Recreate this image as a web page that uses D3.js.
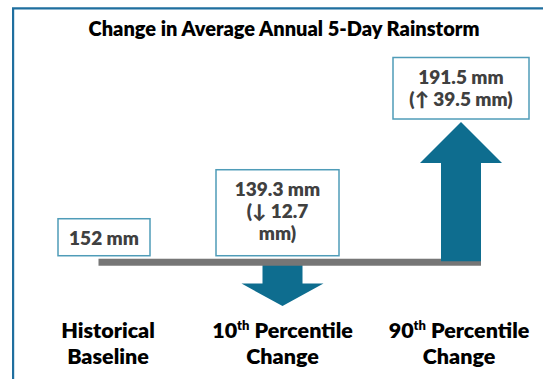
<!DOCTYPE html>
<html>
<head>
<meta charset="utf-8">
<script src="https://cdn.jsdelivr.net/npm/d3@7"></script>
<style>
  html, body { margin: 0; padding: 0; background: #fff; }
  svg { display: block; }
  text { font-family: Lato, "Open Sans", sans-serif; font-weight: 800; }
</style>
</head>
<body>
<svg id="chart" width="543" height="379"></svg>
<script>
// Average annual 5-day rainstorm depth (mm): baseline and projected percentiles
const title = "Change in Average Annual 5-Day Rainstorm";
const categories = ["Historical Baseline", "10th Percentile Change", "90th Percentile Change"];
const values = [152, 139.3, 191.5];
const unit = "mm";

// Layout and style
const W = 543, H = 379;
const arrowColor = "#0e6d8f";
const barColor = "#767676";
const boxStroke = "#4f9cb8";
const boxWidths = [92, 123, 136];
const boxWrap = [120, 90, 120];
const boxDx = [0, -5, 0];
const labelDx = [4, 0, -2];
const shaftW = 40, headW = 82, maxHead = 41;
const boxFont = 19, labelFont = 21.5, titleFont = 20;

const svg = d3.select("#chart");

// Frame lines along top and left
svg.append("path")
  .attr("d", `M13.1,${H} V8.4 H${W}`)
  .attr("fill", "none")
  .attr("stroke", "#1f6f9f")
  .attr("stroke-width", 2.2);

svg.append("text")
  .attr("x", 284).attr("y", 36)
  .attr("text-anchor", "middle")
  .attr("font-size", titleFont)
  .attr("fill", "#000")
  .text(title);

const x = d3.scalePoint().domain(categories).range([104, 461]);
const y = d3.scaleLinear().domain([d3.min(values), d3.max(values)]).range([306, 122]);
const base = values[0];
const y0 = y(base);

const rows = categories.map((c, i) => ({ cat: c, value: values[i], change: values[i] - base, i }));

function arrowPath(d) {
  const cx = x(d.cat), tip = y(d.value);
  const s = d.change > 0 ? 1 : -1;
  const len = Math.abs(tip - y0);
  const head = Math.min(maxHead, len / 2);
  const hb = tip + s * head;
  return `M${cx - shaftW / 2},${y0} V${hb} H${cx - headW / 2} L${cx},${tip} L${cx + headW / 2},${hb} H${cx + shaftW / 2} V${y0} Z`;
}

const changes = rows.filter(d => d.i > 0);

// Downward arrows sit behind the baseline bar, upward arrows in front
svg.append("g").selectAll("path")
  .data(changes.filter(d => d.change < 0))
  .join("path")
  .attr("d", arrowPath)
  .attr("fill", arrowColor);

svg.append("rect")
  .attr("x", x(categories[0]) - 5.5)
  .attr("y", y0 - 2.5)
  .attr("width", x(categories[categories.length - 1]) + shaftW / 2 - (x(categories[0]) - 5.5))
  .attr("height", 7)
  .attr("fill", barColor);

svg.append("g").selectAll("path")
  .data(changes.filter(d => d.change > 0))
  .join("path")
  .attr("d", arrowPath)
  .attr("fill", arrowColor);

// Value boxes
const measure = svg.append("text").attr("font-size", boxFont).attr("visibility", "hidden");
function textWidth(s) { measure.text(s); return measure.node().getComputedTextLength(); }
function wrap(str, maxW) {
  const words = str.split(" ");
  const lines = [];
  let cur = words[0];
  for (let k = 1; k < words.length; k++) {
    const t = cur + " " + words[k];
    if (textWidth(t) > maxW) { lines.push(cur); cur = words[k]; }
    else cur = t;
  }
  lines.push(cur);
  return lines;
}

rows.forEach(d => {
  const lines = [`${d.value} ${unit}`];
  if (d.i > 0) {
    const arrow = d.change > 0 ? "\u2191" : "\u2193";
    lines.push(...wrap(`(${arrow} ${Math.abs(d.change).toFixed(1)} ${unit})`, boxWrap[d.i]));
  }
  d.lines = lines;
});
measure.remove();

svg.append("g").selectAll("g")
  .data(rows)
  .join("g")
  .each(function (d) {
    const g = d3.select(this);
    const w = boxWidths[d.i];
    const h = 24.5 * d.lines.length + 12.5;
    const bottom = Math.min(y0 - 2.5, y(d.value)) - 3;
    const top = bottom - h;
    const cx = x(d.cat) + boxDx[d.i];
    g.append("rect")
      .attr("x", cx - w / 2).attr("y", top)
      .attr("width", w).attr("height", h)
      .attr("fill", "#fff")
      .attr("stroke", boxStroke)
      .attr("stroke-width", 1.5);
    g.selectAll("text")
      .data(d.lines)
      .join("text")
      .attr("x", cx)
      .attr("y", (l, k) => top + 26 + 22 * k)
      .attr("text-anchor", "middle")
      .attr("font-size", boxFont)
      .attr("fill", "#404040")
      .text(l => l);
  });

// Category labels with ordinal superscripts
function splitLabel(c) {
  const k = c.lastIndexOf(" ");
  return [c.slice(0, k), c.slice(k + 1)];
}

svg.append("g").selectAll("text")
  .data(rows)
  .join("text")
  .attr("text-anchor", "middle")
  .attr("font-size", labelFont)
  .attr("fill", "#000")
  .each(function (d) {
    const t = d3.select(this);
    const cx = x(d.cat) + labelDx[d.i];
    splitLabel(d.cat).forEach((line, k) => {
      const yy = 338.3 + 26 * k;
      const m = line.match(/^(\d+)(st|nd|rd|th)(.*)$/);
      if (m) {
        t.append("tspan").attr("x", cx).attr("y", yy).text(m[1]);
        t.append("tspan").attr("dy", -8).attr("font-size", 13).text(m[2]);
        t.append("tspan").attr("dy", 8).text(m[3]);
      } else {
        t.append("tspan").attr("x", cx).attr("y", yy).text(line);
      }
    });
  });
</script>
</body>
</html>
